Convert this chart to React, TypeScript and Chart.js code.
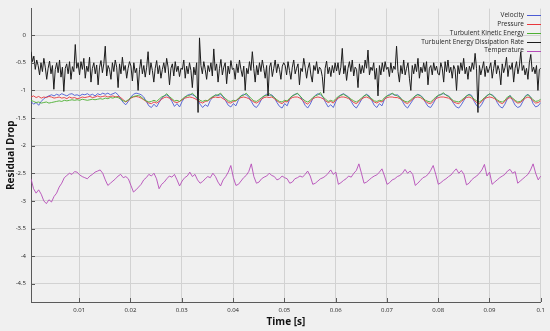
import { useEffect, useRef } from "react";
import { Chart, registerables } from "chart.js";

Chart.register(...registerables);

const T_START = 0.0006;
const T_END = 0.1;

const X_TICKS = [0.01, 0.02, 0.03, 0.04, 0.05, 0.06, 0.07, 0.08, 0.09, 0.1];
const X_TICK_LABELS = ["0.01", "0.02", "0.03", "0.04", "0.05", "0.06", "0.07", "0.08", "0.09", "0.1"];
const Y_TICKS = [0, -0.5, -1, -1.5, -2, -2.5, -3, -3.5, -4, -4.5];
const Y_TICK_LABELS = ["0", "-0.5", "-1", "-1.5", "-2", "-2.5", "-3", "-3.5", "-4", "-4.5"];

const SERIES_NAMES = [
  "Velocity",
  "Pressure",
  "Turbulent Kinetic Energy",
  "Turbulent Energy Dissipation Rate",
  "Temperature",
];

const velocity = [
  -1.2, -1.25, -1.22, -1.27, -1.2, -1.15, -1.12, -1.1, -1.08, -1.1,
  -1.07, -1.09, -1.06, -1.08, -1.1, -1.07, -1.06, -1.09, -1.08, -1.1,
  -1.07, -1.08, -1.06, -1.09, -1.07, -1.1, -1.06, -1.08, -1.05, -1.07,
  -1.05, -1.08, -1.06, -1.04, -1.08, -1.15, -1.22, -1.26, -1.2, -1.12,
  -1.07, -1.05, -1.06, -1.08, -1.12, -1.2, -1.28, -1.31, -1.25, -1.3,
  -1.22, -1.14, -1.1, -1.08, -1.12, -1.2, -1.29, -1.24, -1.3, -1.2,
  -1.13, -1.09, -1.07, -1.08, -1.1, -1.16, -1.25, -1.31, -1.26, -1.29,
  -1.18, -1.12, -1.08, -1.1, -1.07, -1.12, -1.19, -1.27, -1.3, -1.24,
  -1.28, -1.17, -1.1, -1.07, -1.08, -1.12, -1.2, -1.28, -1.31, -1.25,
  -1.16, -1.1, -1.07, -1.09, -1.08, -1.13, -1.22, -1.29, -1.32, -1.24,
  -1.28, -1.16, -1.1, -1.07, -1.06, -1.1, -1.18, -1.27, -1.32, -1.25,
  -1.15, -1.09, -1.06, -1.08, -1.12, -1.22, -1.3, -1.26, -1.31, -1.2,
  -1.12, -1.08, -1.06, -1.09, -1.12, -1.2, -1.28, -1.32, -1.25, -1.17,
  -1.1, -1.07, -1.1, -1.18, -1.27, -1.31, -1.24, -1.28, -1.16, -1.1,
  -1.07, -1.06, -1.09, -1.08, -1.12, -1.2, -1.28, -1.32, -1.25, -1.18,
  -1.1, -1.07, -1.09, -1.13, -1.22, -1.29, -1.31, -1.24, -1.15, -1.09,
  -1.07, -1.06, -1.08, -1.1, -1.16, -1.24, -1.3, -1.32, -1.26, -1.18,
  -1.1, -1.07, -1.09, -1.2, -1.28, -1.31, -1.25, -1.16, -1.09, -1.07,
  -1.08, -1.12, -1.22, -1.29, -1.32, -1.25, -1.15, -1.09, -1.18, -1.27,
  -1.31, -1.29, -1.2, -1.1, -1.07, -1.12, -1.24, -1.3, -1.28, -1.22,
];

const pressure = [
  -1.12, -1.1, -1.13, -1.11, -1.14, -1.12, -1.13, -1.11, -1.12, -1.14,
  -1.13, -1.12, -1.14, -1.13, -1.15, -1.12, -1.14, -1.13, -1.15, -1.14,
  -1.12, -1.13, -1.12, -1.11, -1.13, -1.12, -1.1, -1.12, -1.11, -1.1,
  -1.12, -1.11, -1.1, -1.12, -1.11, -1.13, -1.17, -1.21, -1.18, -1.14,
  -1.12, -1.11, -1.12, -1.14, -1.17, -1.2, -1.23, -1.24, -1.21, -1.23,
  -1.2, -1.16, -1.13, -1.12, -1.14, -1.17, -1.21, -1.22, -1.2, -1.17,
  -1.14, -1.13, -1.12, -1.13, -1.15, -1.18, -1.21, -1.23, -1.2, -1.19,
  -1.15, -1.13, -1.12, -1.13, -1.12, -1.15, -1.18, -1.22, -1.23, -1.2,
  -1.19, -1.15, -1.13, -1.12, -1.13, -1.15, -1.18, -1.21, -1.23, -1.2,
  -1.16, -1.13, -1.12, -1.13, -1.12, -1.15, -1.19, -1.22, -1.24, -1.2,
  -1.21, -1.16, -1.13, -1.12, -1.12, -1.14, -1.18, -1.22, -1.25, -1.2,
  -1.15, -1.13, -1.12, -1.13, -1.15, -1.19, -1.22, -1.2, -1.23, -1.17,
  -1.14, -1.12, -1.12, -1.13, -1.15, -1.18, -1.22, -1.24, -1.2, -1.16,
  -1.13, -1.12, -1.14, -1.17, -1.21, -1.23, -1.2, -1.21, -1.16, -1.13,
  -1.12, -1.12, -1.13, -1.13, -1.15, -1.18, -1.22, -1.24, -1.2, -1.16,
  -1.13, -1.12, -1.13, -1.16, -1.2, -1.23, -1.24, -1.2, -1.15, -1.13,
  -1.12, -1.12, -1.13, -1.14, -1.17, -1.21, -1.23, -1.24, -1.2, -1.16,
  -1.13, -1.12, -1.14, -1.18, -1.22, -1.24, -1.2, -1.15, -1.13, -1.12,
  -1.13, -1.15, -1.19, -1.22, -1.24, -1.2, -1.15, -1.13, -1.16, -1.2,
  -1.23, -1.22, -1.18, -1.14, -1.12, -1.14, -1.19, -1.23, -1.22, -1.19,
];

const turbulentKineticEnergy = [
  -1.18, -1.2, -1.22, -1.21, -1.23, -1.22, -1.21, -1.23, -1.22, -1.21,
  -1.2, -1.19, -1.2, -1.18, -1.19, -1.18, -1.17, -1.18, -1.17, -1.18,
  -1.16, -1.17, -1.18, -1.17, -1.16, -1.17, -1.16, -1.15, -1.16, -1.14,
  -1.15, -1.13, -1.14, -1.12, -1.13, -1.16, -1.19, -1.2, -1.17, -1.13,
  -1.11, -1.1, -1.09, -1.12, -1.16, -1.19, -1.21, -1.2, -1.18, -1.2,
  -1.16, -1.12, -1.1, -1.06, -1.11, -1.15, -1.19, -1.18, -1.2, -1.16,
  -1.12, -1.1, -1.09, -1.05, -1.1, -1.14, -1.18, -1.2, -1.18, -1.19,
  -1.14, -1.11, -1.09, -1.08, -1.05, -1.11, -1.15, -1.19, -1.2, -1.18,
  -1.19, -1.14, -1.1, -1.09, -1.05, -1.1, -1.15, -1.19, -1.2, -1.17,
  -1.13, -1.1, -1.09, -1.06, -1.1, -1.13, -1.17, -1.2, -1.21, -1.18,
  -1.19, -1.14, -1.1, -1.08, -1.05, -1.1, -1.15, -1.19, -1.21, -1.18,
  -1.13, -1.1, -1.08, -1.04, -1.12, -1.16, -1.2, -1.18, -1.2, -1.15,
  -1.11, -1.09, -1.07, -1.1, -1.13, -1.16, -1.19, -1.21, -1.18, -1.14,
  -1.1, -1.08, -1.12, -1.15, -1.19, -1.2, -1.18, -1.19, -1.13, -1.1,
  -1.09, -1.05, -1.08, -1.1, -1.13, -1.17, -1.2, -1.21, -1.18, -1.14,
  -1.1, -1.08, -1.1, -1.14, -1.18, -1.2, -1.21, -1.17, -1.12, -1.09,
  -1.08, -1.04, -1.09, -1.11, -1.15, -1.19, -1.2, -1.21, -1.18, -1.14,
  -1.1, -1.08, -1.11, -1.16, -1.19, -1.21, -1.18, -1.13, -1.1, -1.06,
  -1.09, -1.13, -1.17, -1.2, -1.21, -1.18, -1.12, -1.1, -1.14, -1.18,
  -1.21, -1.2, -1.16, -1.11, -1.08, -1.12, -1.17, -1.2, -1.19, -1.16,
];

const dissipationRate = [
  -0.3, -0.48, -0.38, -0.62, -0.45, -0.55, -0.72, -0.5, -0.66, -0.42, -0.58, -0.8,
  -0.6, -0.47, -0.7, -0.55, -0.98, -0.62, -0.5, -0.68, -0.45, -0.76, -0.58, -1.02,
  -0.6, -0.52, -0.7, -0.48, -0.8, -0.57, -0.66, -0.17, -0.6, -0.5,
  -0.72, -0.48, -0.62, -0.42, -0.78, -0.56, -0.66, -0.4, -0.85, -0.6, -0.5, -0.7,
  -0.54, -0.9, -0.58, -0.46, -0.68, -0.52, -0.2, -0.74, -0.55, -0.62, -0.8, -0.5,
  -0.66, -0.45, -0.58, -0.95, -0.52, -0.7, -0.4, -0.64, -0.55, -0.78, -0.6, -0.48,
  -0.56, -0.83, -0.5, -0.68, -0.6, -1.0, -0.62, -0.44, -0.7, -0.55, -0.76, -0.58,
  -0.3, -0.72, -0.5, -0.64, -0.85, -0.6, -0.46, -0.7, -0.55, -0.78, -0.62, -0.5,
  -0.68, -0.42, -0.58, -0.9, -0.6, -0.52, -0.74, -0.48, -0.66, -0.56, -0.75, -0.6,
  -0.62, -0.45, -0.78, -0.56, -0.7, -0.5, -0.64, -0.95, -0.58, -0.72, -0.5, -1.4,
  -0.05, -0.55, -0.7, -0.48, -0.62, -0.8, -0.55, -0.66, -0.5, -0.74, -0.25, -0.64,
  -0.52, -0.85, -0.6, -0.44, -0.72, -0.58, -0.5, -0.88, -0.56, -0.7, -0.46, -0.62,
  -0.6, -0.8, -0.52, -0.68, -0.45, -0.62, -0.75, -0.56, -1.0, -0.6, -0.7, -0.48,
  -0.64, -0.3, -0.6, -0.85, -0.55, -0.72, -0.5, -0.66, -0.45, -0.6, -0.78, -0.55,
  -1.1, -0.58, -0.5, -0.75, -0.6, -0.45, -0.68, -0.52, -0.62, -0.8, -0.56, -0.5,
  -0.55, -0.72, -0.48, -0.64, -0.8, -0.58, -0.45, -0.7, -0.6, -0.52, -0.9, -0.6,
  -0.66, -0.42, -0.58, -0.78, -0.6, -0.5, -0.72, -0.85, -0.55, -0.64, -0.48, -0.7,
  -0.58, -0.62, -0.75, -1.05, -0.6, -0.47, -0.7, -0.58, -0.75, -0.55, -0.68, -0.5,
  -0.65, -0.5, -0.72, -0.58, -0.24, -0.7, -0.55, -0.82, -0.6, -0.48, -0.66, -0.45,
  -0.74, -0.58, -0.62, -0.95, -0.52, -0.7, -0.55, -0.68, -0.45, -0.6, -0.27, -0.72,
  -0.58, -0.64, -0.5, -0.8, -0.6, -1.1, -0.55, -0.72, -0.5, -0.66, -0.48, -0.62,
  -0.58, -0.75, -0.5, -0.68, -0.56, -0.62, -0.2, -0.66, -0.85, -0.55, -0.7, -0.45,
  -0.72, -0.6, -0.5, -0.78, -1.0, -0.55, -0.7, -0.52, -0.66, -0.42, -0.78, -0.58,
  -0.68, -0.5, -0.66, -0.48, -0.9, -0.6, -0.55, -0.72, -0.5, -0.64, -0.56, -0.7,
  -0.72, -0.5, -0.6, -0.85, -0.48, -0.66, -0.45, -0.68, -0.58, -0.78, -0.55, -0.62,
  -1.0, -0.55, -0.7, -0.5, -0.64, -0.42, -0.7, -0.58, -0.8, -0.56, -0.66, -0.5,
  -0.62, -0.33, -0.6, -1.4, -0.55, -0.72, -0.6, -0.48, -0.75, -0.56, -0.68, -0.6,
  -0.5, -0.78, -0.6, -0.45, -0.7, -0.55, -0.64, -0.9, -0.52, -0.68, -0.58, -0.4,
  -0.75, -0.55, -0.62, -0.5, -0.85, -0.6, -0.48, -0.7, -0.56, -0.3, -0.64, -0.55,
  -0.72, -0.6, -0.8, -0.5, -0.35, -0.66, -0.58, -0.7, -0.55, -1.0, -0.62, -0.6,
];

const temperature = [
  -2.6, -2.78, -2.86, -2.8, -2.88, -3.0, -3.05, -2.98, -3.02, -2.92,
  -2.86, -2.75, -2.68, -2.58, -2.54, -2.5, -2.52, -2.47, -2.48, -2.53,
  -2.56, -2.58, -2.6, -2.55, -2.52, -2.48, -2.46, -2.44, -2.5, -2.62,
  -2.72, -2.68, -2.64, -2.6, -2.55, -2.52, -2.58, -2.56, -2.6, -2.72,
  -2.84, -2.8, -2.75, -2.7, -2.62, -2.58, -2.52, -2.55, -2.5, -2.6,
  -2.78, -2.7, -2.66, -2.6, -2.55, -2.57, -2.52, -2.62, -2.73, -2.64,
  -2.58, -2.55, -2.48, -2.56, -2.52, -2.62, -2.68, -2.65, -2.6, -2.56,
  -2.58, -2.5, -2.56, -2.66, -2.73, -2.62, -2.56, -2.48, -2.36, -2.58,
  -2.72, -2.7, -2.64, -2.58, -2.54, -2.47, -2.33, -2.56, -2.68, -2.66,
  -2.6, -2.57, -2.55, -2.5, -2.54, -2.56, -2.62, -2.6, -2.55, -2.58,
  -2.6,
  -2.68, -2.66, -2.6, -2.58, -2.55, -2.57, -2.52, -2.46, -2.55,
  -2.7, -2.68, -2.64, -2.6, -2.58, -2.55, -2.5, -2.44, -2.52, -2.48,
  -2.7, -2.67, -2.63, -2.6, -2.55, -2.57, -2.5, -2.45, -2.33, -2.5,
  -2.68, -2.66, -2.62, -2.58, -2.55, -2.53, -2.48, -2.42, -2.55,
  -2.7, -2.67, -2.62, -2.6, -2.56, -2.54, -2.5, -2.43, -2.5, -2.46, -2.52,
  -2.72, -2.68, -2.63, -2.58, -2.56, -2.52, -2.45, -2.36, -2.52,
  -2.7, -2.67, -2.63, -2.6, -2.56, -2.53, -2.47, -2.42, -2.5, -2.45, -2.52,
  -2.71, -2.68, -2.62, -2.58, -2.55, -2.5, -2.44, -2.34, -2.55, -2.48,
  -2.7, -2.66, -2.62, -2.58, -2.55, -2.52, -2.46, -2.43, -2.5, -2.47,
  -2.68, -2.64, -2.6, -2.56, -2.52, -2.44, -2.33, -2.5,
  -2.62, -2.55,
];

const SERIES_VALUES = [velocity, pressure, turbulentKineticEnergy, dissipationRate, temperature];
const SERIES_COLORS = ["#4b5bd4", "#e8363c", "#4caf32", "#1c1c1c", "#b54cb8"];

const FONT = '"Open Sans", "Noto Sans", sans-serif';

function toPoints(vals: number[]) {
  const n = vals.length;
  return vals.map((v, i) => ({ x: T_START + ((T_END - T_START) * i) / (n - 1), y: v }));
}

const overlayPlugin = {
  id: "matlabOverlay",
  afterDraw(chart: any) {
    const { ctx, chartArea, scales } = chart;
    ctx.save();
    ctx.strokeStyle = "#5a5a5a";
    ctx.lineWidth = 1;
    ctx.beginPath();
    X_TICKS.forEach((v) => {
      const px = Math.round(scales.x.getPixelForValue(v)) + 0.5;
      ctx.moveTo(px, chartArea.bottom);
      ctx.lineTo(px, chartArea.bottom - 4);
    });
    Y_TICKS.forEach((v) => {
      const py = Math.round(scales.y.getPixelForValue(v)) + 0.5;
      ctx.moveTo(chartArea.left, py);
      ctx.lineTo(chartArea.left + 4, py);
    });
    ctx.stroke();

    ctx.font = `6.5px ${FONT}`;
    ctx.textAlign = "right";
    ctx.textBaseline = "middle";
    SERIES_NAMES.forEach((name, i) => {
      const y = 15 + i * 8.9;
      ctx.fillStyle = "#262626";
      ctx.fillText(name, 524, y);
      ctx.strokeStyle = SERIES_COLORS[i];
      ctx.lineWidth = 1;
      ctx.beginPath();
      ctx.moveTo(527, Math.round(y) + 0.5);
      ctx.lineTo(541, Math.round(y) + 0.5);
      ctx.stroke();
    });
    ctx.restore();
  },
};

export default function App() {
  const canvasRef = useRef<HTMLCanvasElement | null>(null);

  useEffect(() => {
    const canvas = canvasRef.current;
    if (!canvas) return;
    const datasets = SERIES_NAMES.map((name, i) => ({
      label: name,
      data: toPoints(SERIES_VALUES[i]),
      borderColor: SERIES_COLORS[i],
      backgroundColor: SERIES_COLORS[i],
      borderWidth: i === 3 ? 1 : 0.9,
      pointRadius: 0,
      tension: 0,
      fill: false,
      order: 4 - i,
    }));

    const chart = new Chart(canvas, {
      type: "line",
      data: { datasets },
      plugins: [overlayPlugin],
      options: {
        animation: false,
        responsive: false,
        devicePixelRatio: 1,
        layout: { padding: { top: 7, right: 7, left: 0, bottom: 0 } },
        plugins: {
          legend: { display: false },
          tooltip: { enabled: false },
        },
        scales: {
          x: {
            type: "linear",
            min: T_START,
            max: T_END,
            afterBuildTicks: (scale: any) => {
              scale.ticks = X_TICKS.map((v) => ({ value: v }));
            },
            afterFit: (scale: any) => {
              scale.height = 29;
            },
            ticks: {
              autoSkip: false,
              maxRotation: 0,
              padding: 5,
              color: "#262626",
              font: { family: FONT, size: 6 },
              callback: (value: any) => {
                const idx = X_TICKS.findIndex((t) => Math.abs(t - Number(value)) < 1e-9);
                return idx >= 0 ? X_TICK_LABELS[idx] : "";
              },
            },
            grid: { color: "#d2d2d2", lineWidth: 1, drawTicks: false },
            border: { display: true, color: "#5a5a5a", width: 1 },
            title: {
              display: true,
              text: "Time [s]",
              color: "#111",
              font: { family: FONT, size: 10, weight: "bold" },
              padding: { top: 0, bottom: 3 },
            },
          },
          y: {
            type: "linear",
            min: -4.83,
            max: 0.48,
            afterBuildTicks: (scale: any) => {
              scale.ticks = Y_TICKS.map((v) => ({ value: v }));
            },
            afterFit: (scale: any) => {
              scale.width = 31;
            },
            ticks: {
              autoSkip: false,
              padding: 5,
              color: "#262626",
              font: { family: FONT, size: 6 },
              callback: (value: any) => {
                const idx = Y_TICKS.findIndex((t) => Math.abs(t - Number(value)) < 1e-9);
                return idx >= 0 ? Y_TICK_LABELS[idx] : "";
              },
            },
            grid: { color: "#d2d2d2", lineWidth: 1, drawTicks: false },
            border: { display: true, color: "#5a5a5a", width: 1 },
            title: {
              display: true,
              text: "Residual Drop",
              color: "#111",
              font: { family: FONT, size: 10, weight: "bold" },
              padding: { top: 5, bottom: 0 },
            },
          },
        },
      },
    });
    return () => chart.destroy();
  }, []);

  return (
    <div
      style={{
        position: "absolute",
        left: 0,
        top: 0,
        width: 550,
        height: 331,
        background: "#f0f0f0",
      }}
    >
      <canvas ref={canvasRef} width={550} height={331} style={{ display: "block", width: 550, height: 331 }} />
    </div>
  );
}
